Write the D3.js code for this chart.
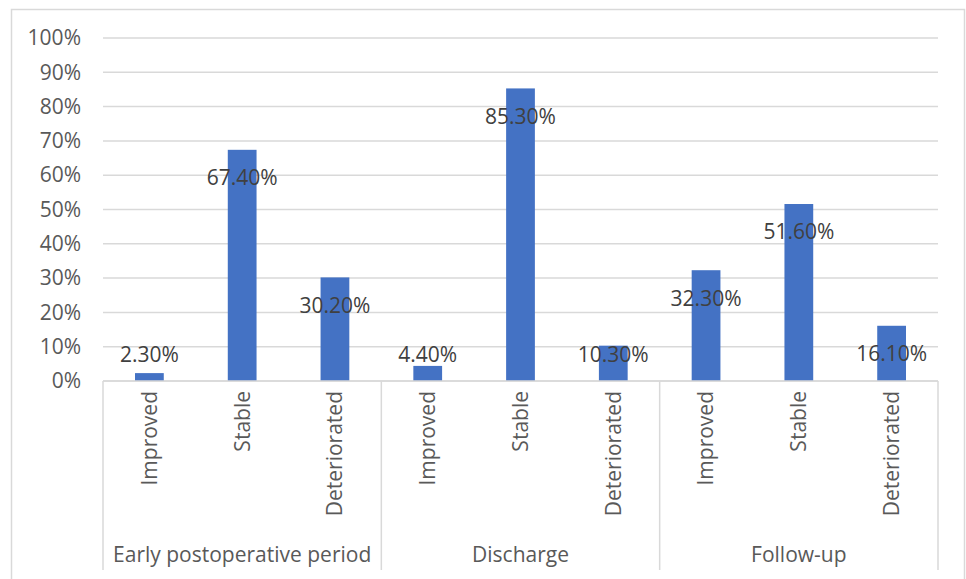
<!DOCTYPE html>
<html lang="en">
<head>
    <meta charset="UTF-8">
    <title>Outcome by period</title>
    <script src="https://d3js.org/d3.v7.min.js"></script>
    <style>
        body { margin: 0; background: #fff; }
        text { font-family: "Open Sans", "Noto Sans", sans-serif; }
    </style>
</head>
<body>
    <svg id="chart" width="966" height="579"></svg>

    <script>
        // Chart data
        const periods = ['Early postoperative period', 'Discharge', 'Follow-up'];
        const statuses = ['Improved', 'Stable', 'Deteriorated'];
        const earlyValues = [0.023, 0.674, 0.302];
        const dischargeValues = [0.044, 0.853, 0.103];
        const followUpValues = [0.323, 0.516, 0.161];
        const yTicks = [0, 0.1, 0.2, 0.3, 0.4, 0.5, 0.6, 0.7, 0.8, 0.9, 1];

        const seriesByPeriod = [earlyValues, dischargeValues, followUpValues];
        const rows = [];
        periods.forEach((p, i) => {
            statuses.forEach((s, j) => {
                rows.push({ period: p, status: s, value: seriesByPeriod[i][j] });
            });
        });

        const width = 966;
        const height = 579;
        const margin = { top: 38, right: 28, bottom: 198, left: 103 };
        const fontSize = '21px';

        const svg = d3.select('#chart');

        // Outer chart border
        svg.append('rect')
            .attr('x', 11.5)
            .attr('y', 9.5)
            .attr('width', 953)
            .attr('height', 600)
            .attr('fill', 'none')
            .attr('stroke', '#d9d9d9')
            .attr('stroke-width', 1.5);

        // Scales
        const x0 = d3.scaleBand()
            .domain(periods)
            .range([margin.left, width - margin.right]);

        const x1 = d3.scaleBand()
            .domain(statuses)
            .range([0, x0.bandwidth()])
            .paddingInner(0.69)
            .paddingOuter(0.345);

        const y = d3.scaleLinear()
            .domain([0, 1])
            .range([height - margin.bottom, margin.top]);

        // Gridlines
        svg.append('g')
            .selectAll('line')
            .data(yTicks)
            .join('line')
            .attr('x1', margin.left)
            .attr('x2', width - margin.right)
            .attr('y1', d => y(d))
            .attr('y2', d => y(d))
            .attr('stroke', '#d9d9d9')
            .attr('stroke-width', 1.5);

        // Y axis labels
        const yAxis = svg.append('g')
            .attr('transform', `translate(${margin.left - 22},0)`)
            .call(d3.axisLeft(y).tickValues(yTicks).tickFormat(d3.format('.0%')).tickSize(0).tickPadding(0));
        yAxis.select('.domain').remove();
        yAxis.selectAll('text')
            .attr('fill', '#595959')
            .style('font-size', fontSize);

        // Bars
        svg.append('g')
            .selectAll('rect')
            .data(rows)
            .join('rect')
            .attr('x', d => x0(d.period) + x1(d.status))
            .attr('y', d => y(d.value))
            .attr('width', x1.bandwidth())
            .attr('height', d => y(0) - y(d.value))
            .attr('fill', '#4472c4');

        // Data labels (below the bar top, or above the axis for short bars)
        svg.append('g')
            .selectAll('text')
            .data(rows)
            .join('text')
            .attr('x', d => x0(d.period) + x1(d.status) + x1.bandwidth() / 2)
            .attr('y', d => Math.min(y(d.value) + 28, y(0) - 26))
            .attr('dy', '0.35em')
            .attr('text-anchor', 'middle')
            .attr('fill', '#404040')
            .style('font-size', fontSize)
            .text(d => d3.format('.2%')(d.value));

        // Category axis: baseline and group separators
        const axisBottom = y(0);
        svg.append('line')
            .attr('x1', margin.left)
            .attr('x2', width - margin.right)
            .attr('y1', axisBottom)
            .attr('y2', axisBottom)
            .attr('stroke', '#d9d9d9')
            .attr('stroke-width', 1.5);

        const separators = periods.map(p => x0(p)).concat([width - margin.right]);
        svg.append('g')
            .selectAll('line')
            .data(separators)
            .join('line')
            .attr('x1', d => d)
            .attr('x2', d => d)
            .attr('y1', axisBottom)
            .attr('y2', 570)
            .attr('stroke', '#d9d9d9')
            .attr('stroke-width', 1.5);

        // Rotated status labels
        svg.append('g')
            .selectAll('text')
            .data(rows)
            .join('text')
            .attr('transform', d => `translate(${x0(d.period) + x1(d.status) + x1.bandwidth() / 2},${axisBottom + 10}) rotate(-90)`)
            .attr('dy', '0.35em')
            .attr('text-anchor', 'end')
            .attr('fill', '#595959')
            .style('font-size', fontSize)
            .text(d => d.status);

        // Period labels
        svg.append('g')
            .selectAll('text')
            .data(periods)
            .join('text')
            .attr('x', d => x0(d) + x0.bandwidth() / 2)
            .attr('y', 555)
            .attr('dy', '0.35em')
            .attr('text-anchor', 'middle')
            .attr('fill', '#595959')
            .style('font-size', fontSize)
            .text(d => d);
    </script>
</body>
</html>
